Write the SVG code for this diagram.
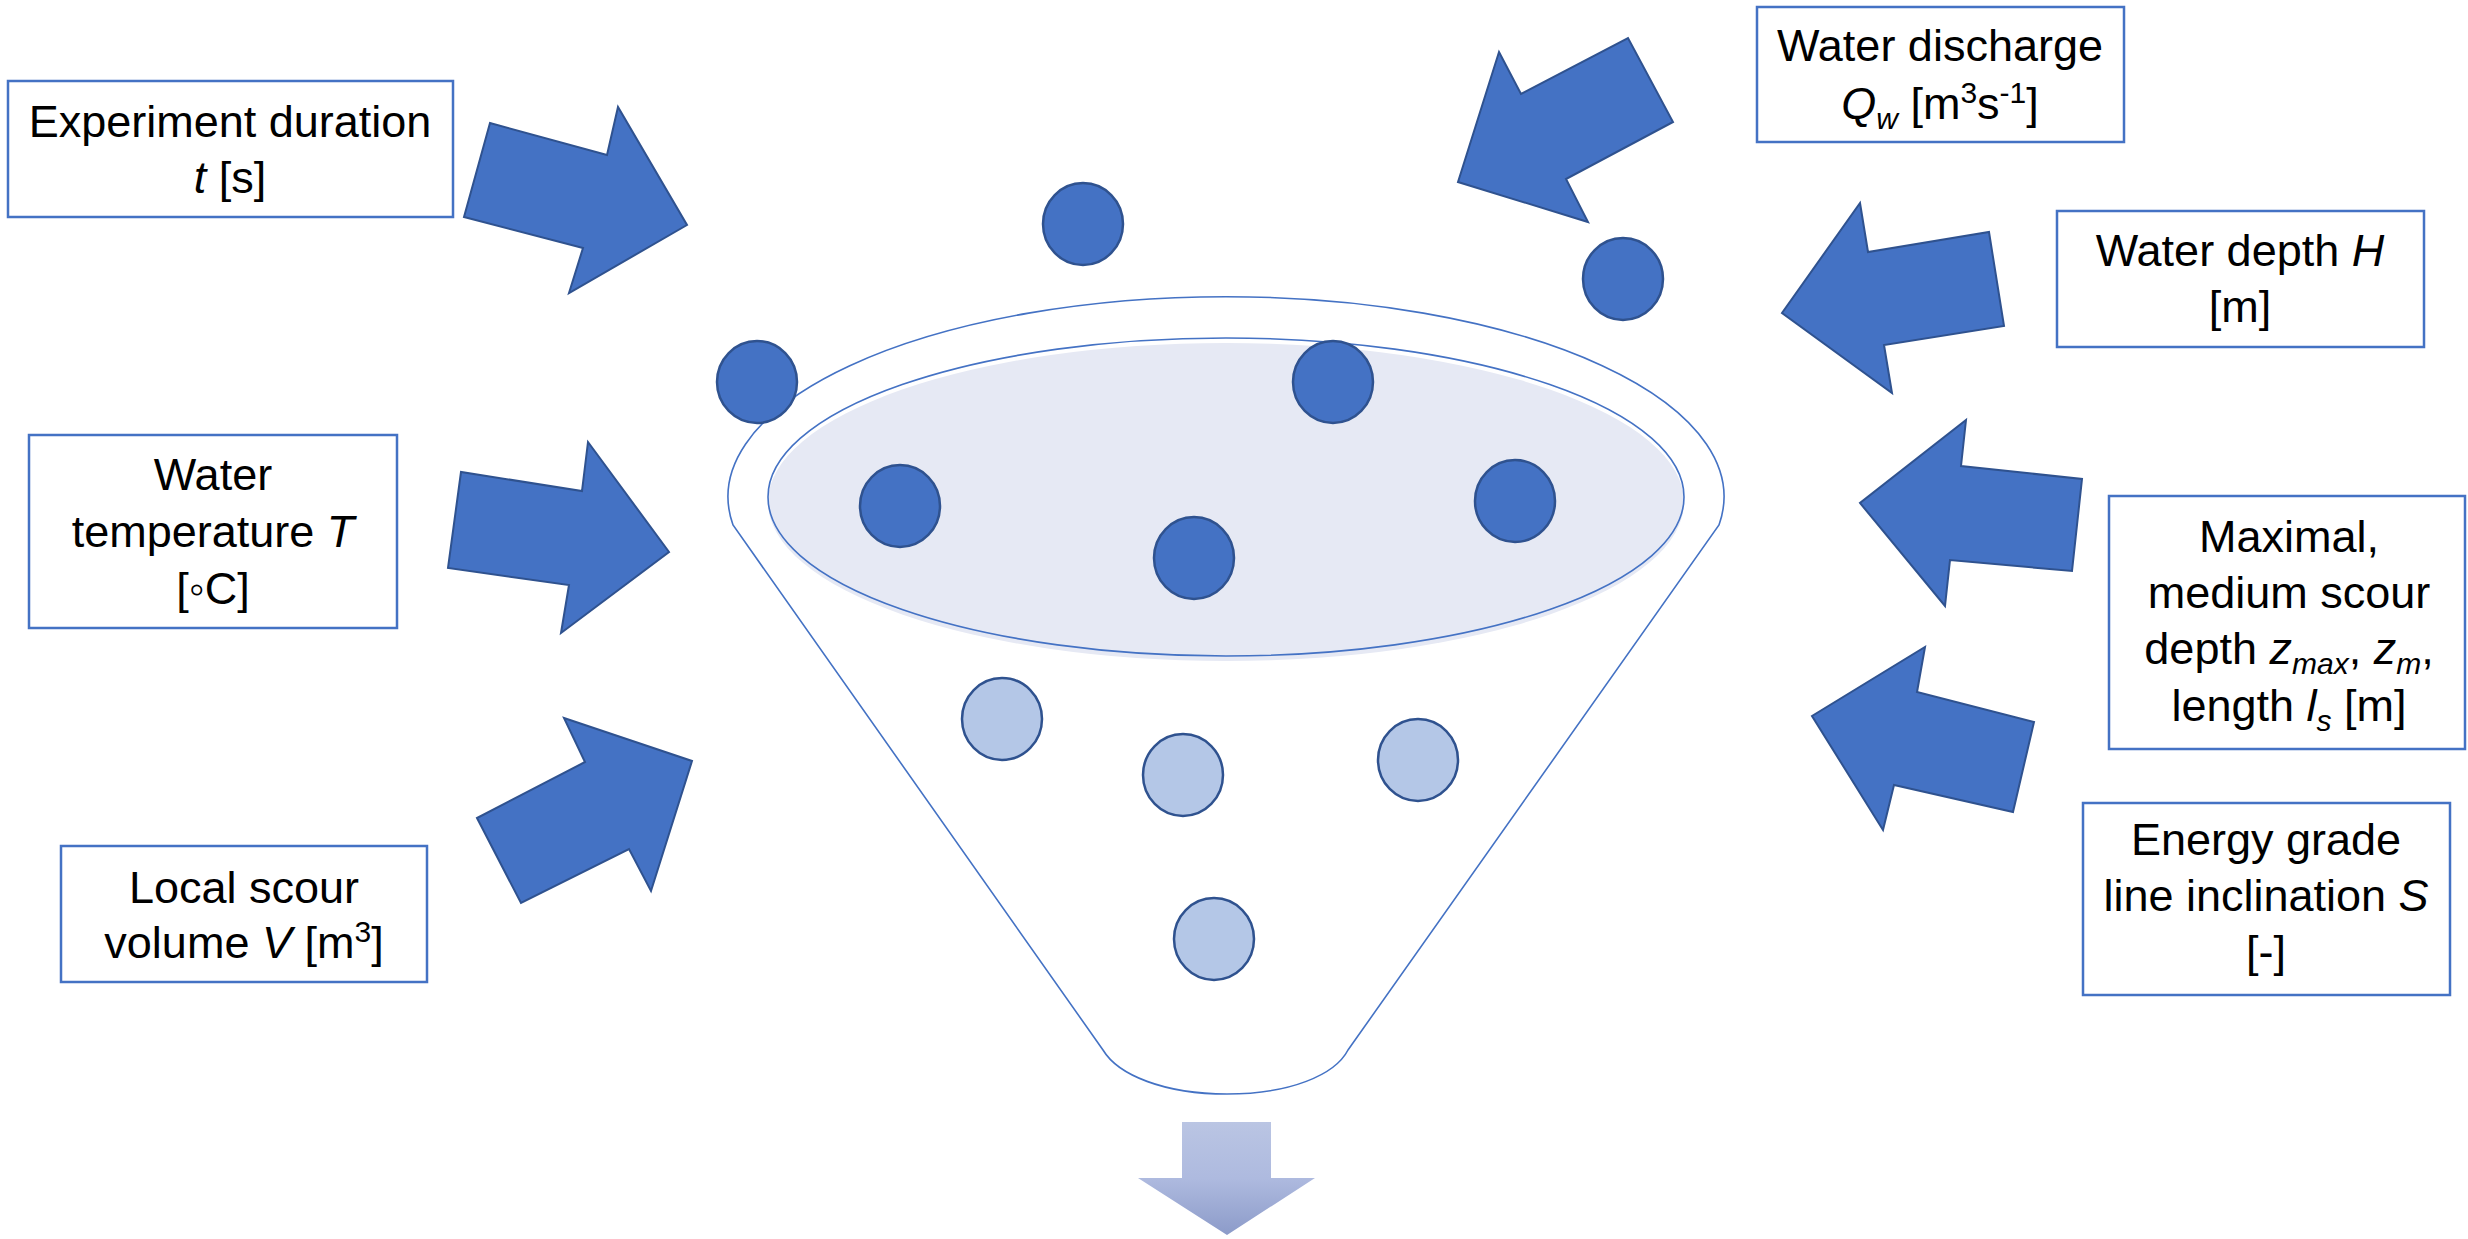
<svg xmlns="http://www.w3.org/2000/svg" width="2468" height="1239" viewBox="0 0 2468 1239">
<defs>
<style>
.box{fill:#fff;stroke:#4472C4;stroke-width:2.5}
.lbl{font-family:"Liberation Sans",Arial,sans-serif;font-size:45px;fill:#000;text-anchor:middle}
.it{font-style:italic}
.arrow{fill:#4472C4;stroke:#2F528F;stroke-width:2;stroke-linejoin:miter}
.dot{fill:#4472C4;stroke:#2F528F;stroke-width:2.5}
.dotl{fill:#B4C7E7;stroke:#2F528F;stroke-width:2.5}
.fun{fill:none;stroke:#4472C4;stroke-width:1.6}
</style>
<linearGradient id="gdown" x1="0" y1="0" x2="0" y2="1">
<stop offset="0" stop-color="#BAC5E3"/>
<stop offset="0.5" stop-color="#AEBADF"/>
<stop offset="1" stop-color="#8C9BC9"/>
</linearGradient>
</defs>
<rect width="2468" height="1239" fill="#fff"/>

<g id="funnel">
<path class="fun" d="M 733 525 A 498 200 0 1 1 1719 525 L 1348 1050 C 1335 1075 1290 1094 1227 1094 C 1164 1094 1118 1075 1103 1050 Z"/>
<ellipse cx="1226" cy="502" rx="458" ry="159" fill="#E6E9F4"/>
<ellipse cx="1226" cy="497" rx="458" ry="159" fill="none" stroke="#4472C4" stroke-width="1.6"/>
</g>

<g id="particles">
<ellipse class="dot" cx="1083" cy="224" rx="40" ry="41"/>
<ellipse class="dot" cx="1623" cy="279" rx="40" ry="41"/>
<ellipse class="dot" cx="757" cy="382" rx="40" ry="41"/>
<ellipse class="dot" cx="1333" cy="382" rx="40" ry="41"/>
<ellipse class="dot" cx="900" cy="506" rx="40" ry="41"/>
<ellipse class="dot" cx="1194" cy="558" rx="40" ry="41"/>
<ellipse class="dot" cx="1515" cy="501" rx="40" ry="41"/>
<ellipse class="dotl" cx="1002" cy="719" rx="40" ry="41"/>
<ellipse class="dotl" cx="1183" cy="775" rx="40" ry="41"/>
<ellipse class="dotl" cx="1418" cy="760" rx="40" ry="41"/>
<ellipse class="dotl" cx="1214" cy="939" rx="40" ry="41"/>
</g>

<g id="connectors">
<polygon class="arrow" points="490,123 464,217 583,248 569,293 687,225 618,107 607,155"/>
<polygon class="arrow" points="461,472 448,568 569,585 561,633 669,552 588,442 582,491"/>
<polygon class="arrow" points="477,818 521,903 629,849 651,891 692,761 564,718 585,762"/>
<polygon class="arrow" points="1499,52 1521,94 1628,38 1673,122 1566,179 1588,222 1458,182"/>
<polygon class="arrow" points="1860,203 1868,252 1989,232 2004,326 1884,345 1892,393 1782,313"/>
<polygon class="arrow" points="1966,420 1961,466 2082,479 2072,571 1950,560 1945,606 1860,503"/>
<polygon class="arrow" points="1925,647 1917,692 2034,722 2013,812 1894,785 1883,830 1812,716"/>
<polygon id="output-arrow" points="1182,1122 1271,1122 1271,1178 1315,1178 1227,1235 1138,1178 1182,1178" fill="url(#gdown)"/>
</g>

<g id="node-duration">
<rect class="box" x="8" y="81" width="445" height="136"/>
<text class="lbl" x="230" y="137">Experiment duration</text>
<text class="lbl" x="230" y="193"><tspan class="it">t</tspan> [s]</text>
</g>

<g id="node-temperature">
<rect class="box" x="29" y="435" width="368" height="193"/>
<text class="lbl" x="213" y="490">Water</text>
<text class="lbl" x="213" y="547">temperature <tspan class="it">T</tspan></text>
<text class="lbl" x="213" y="604">[◦C]</text>
</g>

<g id="node-volume">
<rect class="box" x="61" y="846" width="366" height="136"/>
<text class="lbl" x="244" y="903">Local scour</text>
<text class="lbl" x="244" y="958">volume <tspan class="it">V</tspan> [m<tspan dy="-16" font-size="30">3</tspan><tspan dy="16">]</tspan></text>
</g>

<g id="node-discharge">
<rect class="box" x="1757" y="7" width="367" height="135"/>
<text class="lbl" x="1940" y="61">Water discharge</text>
<text class="lbl" x="1940" y="119"><tspan class="it">Q</tspan><tspan class="it" dy="10" font-size="30">w</tspan><tspan dy="-10"> [m</tspan><tspan dy="-16" font-size="30">3</tspan><tspan dy="16">s</tspan><tspan dy="-16" font-size="30">-1</tspan><tspan dy="16">]</tspan></text>
</g>

<g id="node-depth">
<rect class="box" x="2057" y="211" width="367" height="136"/>
<text class="lbl" x="2240" y="266">Water depth <tspan class="it">H</tspan></text>
<text class="lbl" x="2240" y="322">[m]</text>
</g>

<g id="node-scour">
<rect class="box" x="2109" y="496" width="356" height="253"/>
<text class="lbl" x="2289" y="552">Maximal,</text>
<text class="lbl" x="2289" y="608">medium scour</text>
<text class="lbl" x="2289" y="664">depth <tspan class="it">z</tspan><tspan class="it" dy="10" font-size="30">max</tspan><tspan dy="-10">, </tspan><tspan class="it">z</tspan><tspan class="it" dy="10" font-size="30">m</tspan><tspan dy="-10">,</tspan></text>
<text class="lbl" x="2289" y="721">length <tspan class="it">l</tspan><tspan class="it" dy="10" font-size="30">s</tspan><tspan dy="-10"> [m]</tspan></text>
</g>

<g id="node-slope">
<rect class="box" x="2083" y="803" width="367" height="192"/>
<text class="lbl" x="2266" y="855">Energy grade</text>
<text class="lbl" x="2266" y="911">line inclination <tspan class="it">S</tspan></text>
<text class="lbl" x="2266" y="967">[-]</text>
</g>
</svg>
